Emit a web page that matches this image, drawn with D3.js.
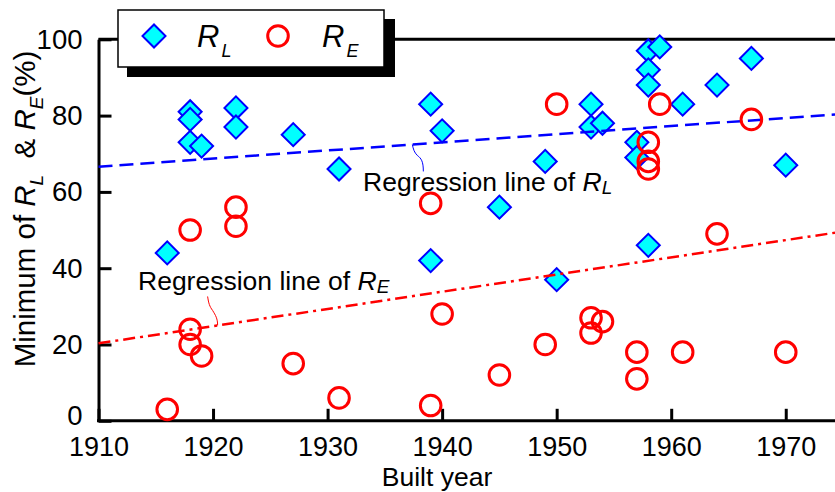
<!DOCTYPE html>
<html><head><meta charset="utf-8">
<script src="https://cdn.jsdelivr.net/npm/d3@7"></script>
<style>
html,body{margin:0;padding:0;background:#fff;}
text{font-family:"Liberation Sans",Arial,sans-serif;}
</style></head>
<body><svg id="chart" width="835" height="492"></svg>
<script>
// ---- data ----
const yearsL = [1916,1918,1918,1918,1919,1922,1922,1927,1931,1939,1939,1940,1945,1949,1950,1953,1953,1954,1957,1957,1958,1958,1958,1958,1959,1961,1964,1967,1970];
const valuesL = [44,81,79,73,72,82,77,75,66,83,42,76,56,68,37,83,77,78,73,69,97,92,88,46,98,83,88,95,67];
const yearsE = [1916,1918,1918,1918,1919,1922,1922,1927,1931,1939,1939,1940,1945,1949,1950,1953,1953,1954,1957,1957,1958,1958,1958,1959,1961,1964,1967,1970];
const valuesE = [3,24,20,50,17,56,51,15,6,57,4,28,12,20,83,27,23,26,18,11,73,68,66,83,18,49,79,18];
const regYears = [1910,1974.3];
const regL = [66.6,80.3];
const regE = [20.3,49.3];
const xTicks = [1910,1920,1930,1940,1950,1960,1970];
const yTicks = [0,20,40,60,80,100];

// ---- layout ----
const svg = d3.select("#chart");
const x = d3.scaleLinear().domain([1910,1974.3]).range([98.5,835]);
const y = d3.scaleLinear().domain([0,100]).range([420.8,39.3]);

// frame top line
svg.append("line").attr("x1",x(1910)).attr("x2",835).attr("y1",y(100)).attr("y2",y(100))
  .attr("stroke","#000").attr("stroke-width",3);

// axes
const xAxis = d3.axisBottom(x).tickValues(xTicks).tickSizeInner(-12).tickSizeOuter(0).tickPadding(16).tickFormat(d3.format("d"));
const gx = svg.append("g").attr("transform",`translate(0,${y(0)})`).call(xAxis);
gx.select(".domain").attr("stroke-width",3).attr("d",`M${x(1910)-1.5},0H835`);
gx.selectAll(".tick line").attr("stroke-width",3);
gx.selectAll(".tick text").attr("font-size",27).attr("fill","#000").attr("font-family","Liberation Sans, Arial, sans-serif");

const yAxis = d3.axisLeft(y).tickValues(yTicks).tickSizeInner(-13).tickSizeOuter(0).tickPadding(16);
const gy = svg.append("g").attr("transform",`translate(${x(1910)},0)`).call(yAxis);
gy.select(".domain").attr("stroke-width",3);
gy.selectAll(".tick line").attr("stroke-width",3);
gy.selectAll(".tick text").attr("font-size",27.5).attr("fill","#000").attr("font-family","Liberation Sans, Arial, sans-serif")
  .attr("dy",d=>d===0?"0.15em":"0.32em");

// axis labels
svg.append("text").attr("x",437).attr("y",486.2).attr("text-anchor","middle").attr("font-size",26.5).text("Built year");
const yl = svg.append("text").attr("transform","translate(35,209) rotate(-90)").attr("text-anchor","middle").attr("font-size",29.5);
yl.append("tspan").text("Minimum of ");
yl.append("tspan").attr("font-style","italic").text("R");
yl.append("tspan").attr("font-style","italic").attr("font-size",19).attr("dy",8).text("L");
yl.append("tspan").attr("dy",-8).text("\u00a0 & ");
yl.append("tspan").attr("font-style","italic").text("R");
yl.append("tspan").attr("font-style","italic").attr("font-size",19).attr("dy",8).text("E");
yl.append("tspan").attr("dy",-8).text("(%)");

// diamond markers
const diamond = d3.symbol().type(d3.symbolSquare).size(265);
svg.append("g").selectAll("path").data(yearsL.map((d,i)=>[d,valuesL[i]])).join("path")
  .attr("d",diamond).attr("transform",d=>`translate(${x(d[0])},${y(d[1])}) rotate(45)`)
  .attr("fill","#00ffff").attr("stroke","#0000ff").attr("stroke-width",2);

// regression lines
const line = d3.line().x(d=>x(d[0])).y(d=>y(d[1]));
svg.append("path").attr("d",line(regYears.map((d,i)=>[d,regL[i]])))
  .attr("fill","none").attr("stroke","#0000ff").attr("stroke-width",2.5).attr("stroke-dasharray","14,7");
svg.append("path").attr("d",line(regYears.map((d,i)=>[d,regE[i]])))
  .attr("fill","none").attr("stroke","#ff0000").attr("stroke-width",2.5).attr("stroke-dasharray","12,5,3,5");

// circle markers
svg.append("g").selectAll("circle").data(yearsE.map((d,i)=>[d,valuesE[i]])).join("circle")
  .attr("cx",d=>x(d[0])).attr("cy",d=>y(d[1])).attr("r",10.3)
  .attr("fill","none").attr("stroke","#ff0000").attr("stroke-width",3);

// annotations
function regAt(reg, yr){ return reg[0] + (reg[1]-reg[0])*(yr-regYears[0])/(regYears[1]-regYears[0]); }
const aL = [x(1937.4), y(regAt(regL,1937.4))];
svg.append("path").attr("d",`M${aL[0]},${aL[1]} C${aL[0]+1},${aL[1]+5} ${aL[0]+2},${aL[1]+8} ${aL[0]+5},${aL[1]+11} C${aL[0]+9},${aL[1]+14} ${aL[0]+11},${aL[1]+17} ${aL[0]+11},${aL[1]+27}`)
  .attr("fill","none").attr("stroke","#0000ff").attr("stroke-width",1);
const tL = svg.append("text").attr("x",363).attr("y",191).attr("font-size",26.5);
tL.append("tspan").text("Regression line of ");
tL.append("tspan").attr("font-style","italic").text("R");
tL.append("tspan").attr("font-style","italic").attr("font-size",19).attr("dy",3).text("L");

const aE = [x(1920.4), y(regAt(regE,1920.4))];
svg.append("path").attr("d",`M${aE[0]-10},${aE[1]-29} C${aE[0]-9},${aE[1]-22} ${aE[0]-8},${aE[1]-19} ${aE[0]-5},${aE[1]-15} C${aE[0]-2},${aE[1]-10} ${aE[0]},${aE[1]-7} ${aE[0]},${aE[1]}`)
  .attr("fill","none").attr("stroke","#ff0000").attr("stroke-width",1);
const tE = svg.append("text").attr("x",138).attr("y",290).attr("font-size",26.5);
tE.append("tspan").text("Regression line of ");
tE.append("tspan").attr("font-style","italic").text("R");
tE.append("tspan").attr("font-style","italic").attr("font-size",19).attr("dy",3).text("E");

// legend
const lg = svg.append("g");
lg.append("rect").attr("x",127).attr("y",19).attr("width",268).attr("height",58).attr("fill","#000");
lg.append("rect").attr("x",118).attr("y",10).attr("width",266).attr("height",57).attr("fill","#fff").attr("stroke","#000").attr("stroke-width",1.5);
lg.append("path").attr("d",diamond).attr("transform","translate(154,36) rotate(45)")
  .attr("fill","#00ffff").attr("stroke","#0000ff").attr("stroke-width",2);
const l1 = lg.append("text").attr("x",197).attr("y",47).attr("font-size",31).attr("font-style","italic");
l1.append("tspan").text("R");
l1.append("tspan").attr("font-size",18).attr("dy",10).attr("dx",2).text("L");
lg.append("circle").attr("cx",278).attr("cy",36).attr("r",10.3).attr("fill","none").attr("stroke","#ff0000").attr("stroke-width",3);
const l2 = lg.append("text").attr("x",322).attr("y",47).attr("font-size",31).attr("font-style","italic");
l2.append("tspan").text("R");
l2.append("tspan").attr("font-size",18).attr("dy",10).attr("dx",2).text("E");
</script></body></html>
